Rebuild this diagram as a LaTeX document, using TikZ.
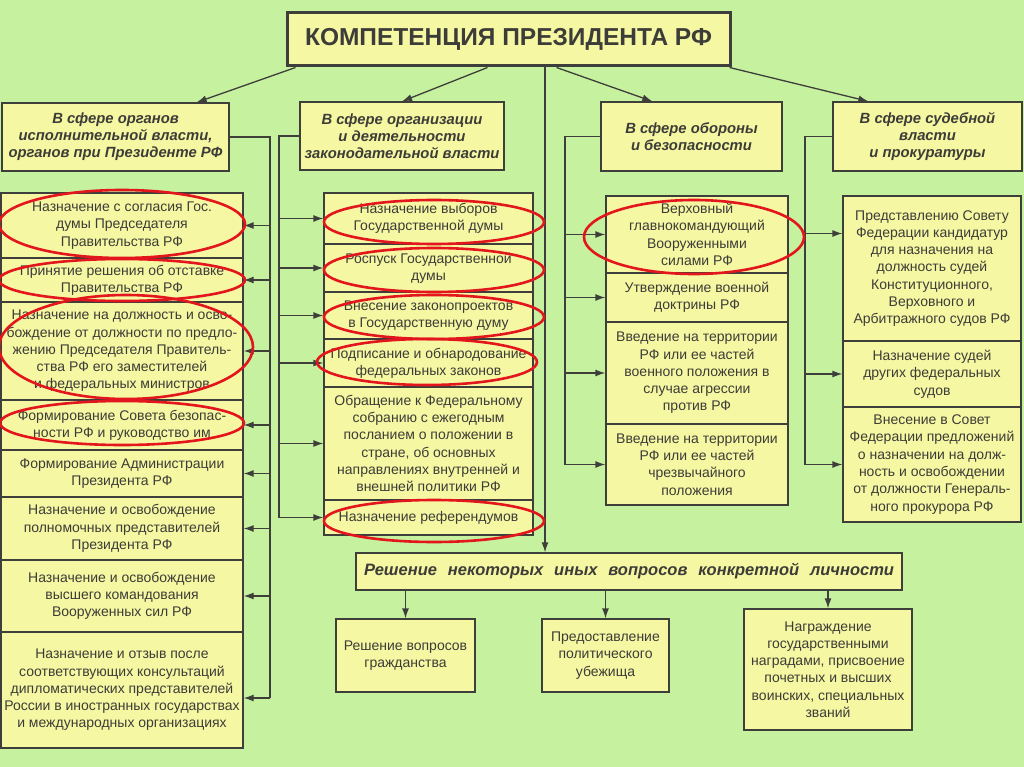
\documentclass[tikz,border=0pt]{standalone}
\usepackage{fontspec}
\setmainfont{Liberation Sans}
\usetikzlibrary{arrows.meta,calc}
\definecolor{bggreen}{RGB}{198,241,158}
\definecolor{cellfill}{RGB}{246,247,162}
\definecolor{edge}{RGB}{62,62,58}
\definecolor{ink}{RGB}{60,60,56}
\definecolor{ringred}{RGB}{226,22,28}

\begin{document}
\begin{tikzpicture}[x=1pt,y=-1pt,
  cell/.style={draw=edge,fill=cellfill,line width=1.3pt,align=center,inner sep=1pt,text=ink,font=\fontsize{14}{17.3}\selectfont},
  head/.style={cell,font=\fontsize{14.8}{17}\selectfont\bfseries\itshape},
  wire/.style={draw=edge,line width=1.3pt},
  tip/.style={wire,-{Latex[length=10pt,width=7pt]}},
  ring/.style={draw=ringred,line width=2.6pt}]

\fill[bggreen] (0,0) rectangle (1024,767);
\useasboundingbox (0,0) rectangle (1024,767);

\node[cell,line width=3pt,minimum width=443,minimum height=53,font=\fontsize{24.5}{27}\selectfont\bfseries] (title) at (508.5,39.5) {КОМПЕТЕНЦИЯ ПРЕЗИДЕНТА РФ};

\node[head,minimum width=227,minimum height=68] (h1) at (115.5,137) {В сфере органов\\исполнительной власти,\\органов при Президенте РФ};
\node[head,minimum width=204,minimum height=68] (h2) at (402,136) {В сфере организации\\и деятельности\\законодательной власти};
\node[head,minimum width=181,minimum height=69] (h3) at (691.5,136.5) {В сфере обороны\\и безопасности};
\node[head,minimum width=189,minimum height=69] (h4) at (927.5,136.5) {В сфере судебной\\власти\\и прокуратуры};

\node[cell,minimum width=242,minimum height=65] (c1-1) at (122,225.5) {Назначение с согласия Гос.\\думы Председателя\\Правительства РФ};
\node[cell,minimum width=242,minimum height=44] (c1-2) at (122,280) {Принятие решения об отставке\\Правительства РФ};
\node[cell,minimum width=242,minimum height=98] (c1-3) at (122,351) {Назначение на должность и осво-\\бождение от должности по предло-\\жению Председателя Правитель-\\ства РФ его заместителей\\и федеральных министров};
\node[cell,minimum width=242,minimum height=50] (c1-4) at (122,425) {Формирование Совета безопас-\\ности РФ и руководство им};
\node[cell,minimum width=242,minimum height=47] (c1-5) at (122,473.5) {Формирование Администрации\\Президента РФ};
\node[cell,minimum width=242,minimum height=63] (c1-6) at (122,528.5) {Назначение и освобождение\\полномочных представителей\\Президента РФ};
\node[cell,minimum width=242,minimum height=72] (c1-7) at (122,596) {Назначение и освобождение\\высшего командования\\Вооруженных сил РФ};
\node[cell,minimum width=242,minimum height=116] (c1-8) at (122,690) {Назначение и отзыв после\\соответствующих консультаций\\дипломатических представителей\\России в иностранных государствах\\и международных организациях};

\node[cell,minimum width=209,minimum height=51] (c2-1) at (428.5,218.5) {Назначение выборов\\Государственной думы};
\node[cell,minimum width=209,minimum height=48] (c2-2) at (428.5,268) {Роспуск Государственной\\думы};
\node[cell,minimum width=209,minimum height=47] (c2-3) at (428.5,315.5) {Внесение законопроектов\\в Государственную думу};
\node[cell,minimum width=209,minimum height=48] (c2-4) at (428.5,363) {Подписание и обнародование\\федеральных законов};
\node[cell,minimum width=209,minimum height=113] (c2-5) at (428.5,443.5) {Обращение к Федеральному\\собранию с ежегодным\\посланием о положении в\\стране, об основных\\направлениях внутренней и\\внешней политики РФ};
\node[cell,minimum width=209,minimum height=35] (c2-6) at (428.5,517.5) {Назначение референдумов};

\node[cell,minimum width=182,minimum height=77] (c3-1) at (697,234.5) {Верховный\\главнокомандующий\\Вооруженными\\силами РФ};
\node[cell,minimum width=182,minimum height=49] (c3-2) at (697,297.5) {Утверждение военной\\доктрины РФ};
\node[cell,minimum width=182,minimum height=102] (c3-3) at (697,373) {Введение на территории\\РФ или ее частей\\военного положения в\\случае агрессии\\против РФ};
\node[cell,minimum width=182,minimum height=81] (c3-4) at (697,464.5) {Введение на территории\\РФ или ее частей\\чрезвычайного\\положения};

\node[cell,minimum width=178,minimum height=145] (c4-1) at (932,268.5) {Представлению Совету\\Федерации кандидатур\\для назначения на\\должность судей\\Конституционного,\\Верховного и\\Арбитражного судов РФ};
\node[cell,minimum width=178,minimum height=66] (c4-2) at (932,374) {Назначение судей\\других федеральных\\судов};
\node[cell,minimum width=178,minimum height=115] (c4-3) at (932,464.5) {Внесение в Совет\\Федерации предложений\\о назначении на долж-\\ность и освобождении\\от должности Генераль-\\ного прокурора РФ};

\node[head,minimum width=546,minimum height=37,font=\fontsize{16.5}{18}\selectfont\bfseries\itshape] (misc) at (629,571.5) {\makebox[530pt][s]{Решение некоторых иных вопросов конкретной личности}};

\node[cell,minimum width=139,minimum height=73] (b1) at (405.5,655.5) {Решение вопросов\\гражданства};
\node[cell,minimum width=127,minimum height=73] (b2) at (605.5,655.5) {Предоставление\\политического\\убежища};
\node[cell,minimum width=168,minimum height=121] (b3) at (828,669.5) {Награждение\\государственными\\наградами, присвоение\\почетных и высших\\воинских, специальных\\званий};

\draw[tip] ([xshift=10pt]title.south west) -- ([xshift=-33pt]h1.north east);
\draw[tip] ([xshift=202pt]title.south west) -- (h2.north);
\draw[tip] ([xshift=271pt]title.south west) -- ([xshift=52pt]h3.north west);
\draw[tip] ([xshift=-2pt]title.south east) -- ([xshift=36pt]h4.north west);
\draw[tip] ([xshift=36.5pt]title.south) -- ([xshift=36.5pt]title.south |- misc.north);

\coordinate (bus1) at (270,0);
\draw[wire] (h1.east) -| ([yshift=-8pt]bus1 |- c1-8.east);
\foreach \k in {1,...,7}
  \draw[tip] (bus1 |- c1-\k.east) -- (c1-\k.east);
\draw[tip] ([yshift=-8pt]bus1 |- c1-8.east) -- ([yshift=-8pt]c1-8.east);

\coordinate (bus2) at (279,0);
\draw[wire] (h2.west) -| (bus2 |- c2-6.west);
\foreach \k in {1,...,6}
  \draw[tip] (bus2 |- c2-\k.west) -- (c2-\k.west);

\coordinate (bus3) at (565,0);
\draw[wire] (h3.west) -| (bus3 |- c3-4.west);
\foreach \k in {1,...,4}
  \draw[tip] (bus3 |- c3-\k.west) -- (c3-\k.west);

\coordinate (bus4) at (805,0);
\draw[wire] (h4.west) -| (bus4 |- c4-3.west);
\draw[tip] ([yshift=35pt]bus4 |- c4-1.west) -- ([yshift=35pt]c4-1.west);
\foreach \k in {2,3}
  \draw[tip] (bus4 |- c4-\k.west) -- (c4-\k.west);

\foreach \n in {b1,b2,b3}
  \draw[tip] (\n.north |- misc.south) -- (\n.north);

\draw[ring] (122,224) ellipse [x radius=123,y radius=34];
\draw[ring] (122,280) ellipse [x radius=123,y radius=21];
\draw[ring] (126,347) ellipse [x radius=127,y radius=52];
\draw[ring] (122,423) ellipse [x radius=122,y radius=22];
\draw[ring] (434,222) ellipse [x radius=110,y radius=22];
\draw[ring] (434,270) ellipse [x radius=110,y radius=22];
\draw[ring] (434,317) ellipse [x radius=110,y radius=22];
\draw[ring] (427,362) ellipse [x radius=110,y radius=23];
\draw[ring] (434,521) ellipse [x radius=110,y radius=21];
\draw[ring] (694,237) ellipse [x radius=110,y radius=37];
\end{tikzpicture}
\end{document}
